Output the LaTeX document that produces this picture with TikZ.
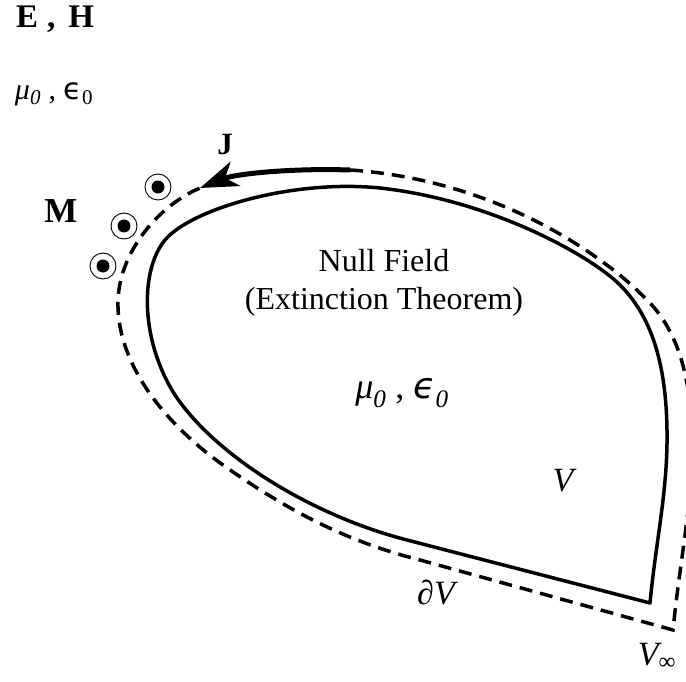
\documentclass[tikz,border=0pt]{standalone}
\usepackage{fontspec}
\setmainfont{Liberation Serif}
\newfontfamily\dvs{DejaVu Sans}
\usetikzlibrary{arrows.meta}
\begin{document}
\begin{tikzpicture}[x=1pt,y=-1pt,
  bound/.style={line width=3.5pt,line join=round},
  outer/.style={line width=3.5pt,dash pattern=on 13pt off 8pt},
  ring/.style={circle,draw,line width=0.9pt,minimum size=26pt,inner sep=0pt},
  lbl/.style={inner sep=0pt,anchor=center}]
\useasboundingbox (0,0) rectangle (686,682);
\clip (0,0) rectangle (686,682);
% solid boundary dV
\coordinate (c) at (650,603);
\draw[bound] (c) .. controls (656,540) and (668,490) .. (667,430)
  .. controls (666,360) and (650,315) .. (620,285)
  .. controls (590,255) and (490,200) .. (380,188)
  .. controls (290,179) and (190,210) .. (165,240)
  .. controls (140,270) and (140,340) .. (175,395)
  .. controls (215,455) and (310,515) .. (407,540)
  -- cycle;
% dashed outer boundary
\coordinate (js) at (350,170);
\coordinate (je) at (200,188);
\coordinate (d) at (673,630);
\draw[outer] (js) .. controls (500,180) and (605,258) .. (642,295)
  .. controls (675,325) and (691,370) .. (692,440)
  .. controls (693,500) and (680,560) .. (d)
  -- (420,560)
  .. controls (340,540) and (280,505) .. (223,465)
  .. controls (160,420) and (116,360) .. (118,300)
  .. controls (120,250) and (160,205) .. (je);
% current J arrow
\draw[line width=5pt,-{Stealth[length=38pt,width=26pt,inset=11pt]}]
  (js) .. controls (290,168) and (235,174) .. (je);
% magnetic current markers
\node[ring] (m1) at (158,187) {};
\node[ring] (m2) at (124,226) {};
\node[ring] (m3) at (103,266) {};
\fill (m1.center) circle (6.5);
\fill (m2.center) circle (6.5);
\fill (m3.center) circle (6.5);
% labels
\node[lbl,font=\fontsize{33}{36}\selectfont\bfseries] (EH) at (55,19)
  {E\hspace{9pt},\hspace{13pt}H};
\node[lbl,font=\fontsize{30}{32}\selectfont] (mu1) at (54,94)
  {\textit{μ}\textsubscript{\textit{0}} , {\dvs ϵ}\textsubscript{0}};
\node[lbl,font=\fontsize{31}{34}\selectfont\bfseries] (J) at (225,145) {J};
\node[lbl,font=\fontsize{35}{38}\selectfont\bfseries] (M) at (61,211) {M};
\node[lbl,align=center,font=\fontsize{32}{38}\selectfont] (nf) at (384,283)
  {Null Field\\(Extinction Theorem)};
\node[lbl,font=\fontsize{36}{38}\selectfont] (mu2) at (402,393)
  {\textit{μ}\textsubscript{\textit{0}} , {\dvs\itshape ϵ}\textsubscript{\textit{0}}};
\node[lbl,font=\fontsize{34}{36}\selectfont\itshape] (V) at (563,481) {V};
\node[lbl,font=\fontsize{34}{36}\selectfont\itshape] (dV) at (436,592) {∂V};
\node[lbl,font=\fontsize{34}{36}\selectfont\itshape] (Vinf) at (657,656)
  {V\textsubscript{\upshape ∞}};
\end{tikzpicture}
\end{document}
